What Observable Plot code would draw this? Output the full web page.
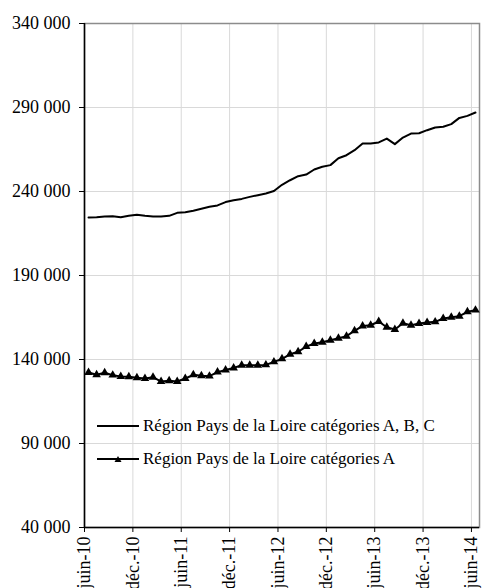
<!DOCTYPE html>
<html>
<head>
<meta charset="utf-8">
<script src="https://cdn.jsdelivr.net/npm/d3@7"></script>
<script src="https://cdn.jsdelivr.net/npm/@observablehq/plot@0.6"></script>
<style>
  html, body { margin: 0; padding: 0; background: white; }
  #wrap { position: relative; width: 484px; height: 588px; overflow: hidden; font-family: "Liberation Serif", "Times New Roman", serif; }
  #wrap svg text { font-family: "Liberation Serif", "Times New Roman", serif; }
  .leg { position: absolute; left: 97px; height: 22px; display: flex; align-items: center; font-size: 17px; color: black; white-space: nowrap; }
  .leg svg { margin-right: 4px; }
</style>
</head>
<body>
<div id="wrap"></div>
<script>
// Monthly values, juin-10 .. juin-14 (49 months)
const seriesABC = [
  224500, 224700, 225100, 225300, 224700, 225500, 226100, 225500, 225100, 225100,
  225500, 227300, 227700, 228500, 229700, 230900, 231700, 233700, 234800, 235600,
  236800, 237800, 238800, 240300, 244000, 246700, 249100, 250100, 253100, 254700,
  255700, 259800, 261600, 264600, 268600, 268600, 269200, 271500, 268200, 272100,
  274500, 274700, 276500, 278100, 278500, 280100, 283800, 285000, 287000
];
const seriesA = [
  132300, 130900, 132100, 130700, 129900, 129700, 129100, 128700, 129500, 126900,
  127300, 126900, 128700, 130900, 130300, 130100, 132500, 133700, 135000, 136600,
  136600, 136600, 136800, 138600, 140400, 143100, 144600, 147700, 149500, 150300,
  151500, 152700, 153900, 157100, 160000, 160400, 162600, 159200, 157900, 161600,
  160400, 161400, 162000, 162400, 164400, 165200, 165800, 168400, 169400
];
const tickLabels = ["juin-10", "déc.-10", "juin-11", "déc.-11", "juin-12", "déc.-12", "juin-13", "déc.-13", "juin-14"];
const yTicks = [40000, 90000, 140000, 190000, 240000, 290000, 340000];
const seriesNames = ["Région Pays de la Loire catégories A, B, C", "Région Pays de la Loire catégories A"];

const rowsABC = seriesABC.map((v, i) => ({m: i + 0.5, v}));
const rowsA = seriesA.map((v, i) => ({m: i + 0.5, v}));
const xTicks = tickLabels.map((_, k) => k * 6);
const fmt = d => d3.format(",")(d).replace(/,/g, " ");
const serif = "'Liberation Serif', 'Times New Roman', serif";

const chart = Plot.plot({
  width: 484,
  height: 588,
  marginLeft: 84,
  marginRight: 5,
  marginTop: 23,
  marginBottom: 61,
  style: {fontFamily: serif, fontSize: "18px", background: "white", color: "black"},
  x: {domain: [0, seriesABC.length], ticks: xTicks, tickFormat: d => tickLabels[d / 6], label: null},
  y: {domain: [40000, 340000], ticks: yTicks, tickFormat: fmt, label: null},
  marks: [
    Plot.gridX(xTicks, {stroke: "#d9d9d9", strokeOpacity: 1}),
    Plot.gridY(yTicks, {stroke: "#d9d9d9", strokeOpacity: 1}),
    Plot.frame({stroke: "#8c8c8c", strokeWidth: 1.5}),
    Plot.axisY({ticks: yTicks, tickFormat: fmt, tickSize: 5, tickPadding: 9, fontSize: 18, label: null}),
    Plot.axisX({ticks: xTicks, tickFormat: d => tickLabels[d / 6], tickRotate: -90, tickSize: 5, tickPadding: 4, fontSize: 18, label: null}),
    Plot.ruleX([0], {stroke: "black", strokeWidth: 1.5}),
    Plot.ruleY([40000], {stroke: "black", strokeWidth: 1.5}),
    Plot.line(rowsABC, {x: "m", y: "v", stroke: "black", strokeWidth: 2}),
    Plot.line(rowsA, {x: "m", y: "v", stroke: "black", strokeWidth: 2}),
    Plot.dot(rowsA, {x: "m", y: "v", symbol: "triangle", r: 3.2, fill: "black", stroke: "none"})
  ]
});

const wrap = document.getElementById("wrap");
wrap.appendChild(chart);

const legendTops = [415, 448];
seriesNames.forEach((name, k) => {
  const row = document.createElement("div");
  row.className = "leg";
  row.style.top = legendTops[k] + "px";
  const marker = k === 1 ? '<path d="M21,8 L24.5,14 L17.5,14 Z" fill="black"/>' : '';
  row.innerHTML = `<svg width="42" height="22" viewBox="0 0 42 22"><line x1="0" x2="42" y1="11" y2="11" stroke="black" stroke-width="2"/>${marker}</svg><span>${name}</span>`;
  wrap.appendChild(row);
});
</script>
</body>
</html>
